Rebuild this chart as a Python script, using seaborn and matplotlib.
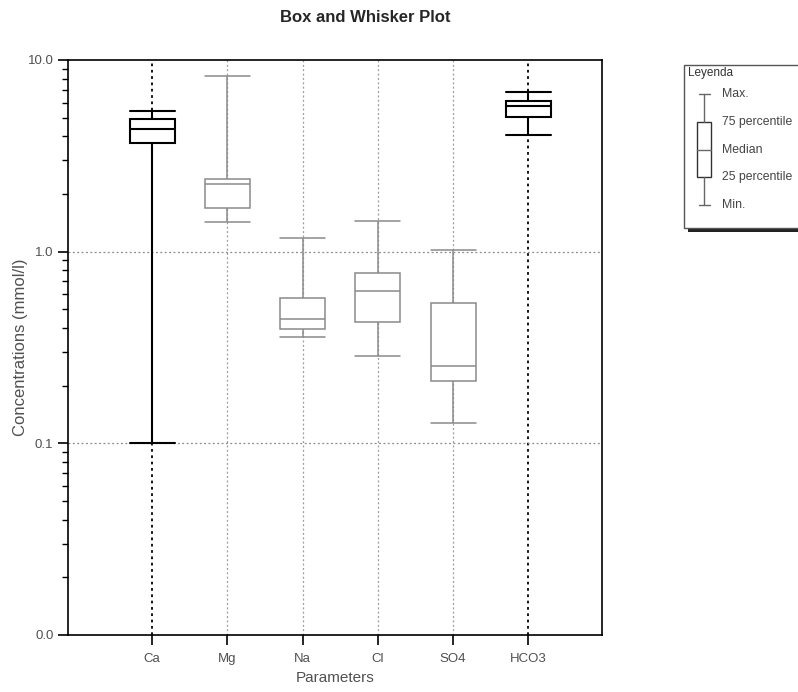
import numpy as np
import pandas as pd
import seaborn as sns
import matplotlib.pyplot as plt
from matplotlib.patches import Rectangle
from matplotlib.ticker import NullFormatter, LogLocator

# five-number summaries (mmol/l)
params = ["Ca", "Mg", "Na", "Cl", "SO4", "HCO3"]
mins = [0.1, 1.42, 0.357, 0.287, 0.127, 4.05]
q1 = [3.69, 1.69, 0.396, 0.428, 0.211, 5.02]
medians = [4.35, 2.25, 0.443, 0.627, 0.253, 5.73]
q3 = [4.94, 2.40, 0.571, 0.778, 0.542, 6.13]
maxs = [5.42, 8.25, 1.18, 1.44, 1.02, 6.84]
dark = ["Ca", "HCO3"]
light = ["Mg", "Na", "Cl", "SO4"]

rows = []
for i, p in enumerate(params):
    for v in (mins[i], q1[i], medians[i], q3[i], maxs[i]):
        rows.append({"param": p, "value": v})
df = pd.DataFrame(rows)

sns.set_style("ticks")
plt.rcParams["font.family"] = ["Liberation Sans", "DejaVu Sans"]

fig = plt.figure(figsize=(7.98, 6.92), dpi=100)
ax = fig.add_axes([0.0852, 0.0824, 0.6692, 0.8309])

gray = "#8a8a8a"
txt = "#505050"

for i, p in enumerate(params):
    c = "black" if p in dark else "#9a9a9a"
    ax.axvline(i, color=c, ls=(0, (1.5, 2)), lw=1.3 if p in dark else 0.9, zorder=1)
for yv in (1.0, 0.1):
    ax.axhline(yv, color="#8a8a8a", ls=(0, (1.5, 2)), lw=0.9, zorder=1)

for group, col, lw in [(light, gray, 1.1), (dark, "black", 1.5)]:
    sns.boxplot(data=df[df["param"].isin(group)], x="param", y="value", order=params,
                whis=(0, 100), width=0.6, color="white", linecolor=col, linewidth=lw,
                log_scale=True, capwidths=0.6, ax=ax, zorder=3)

ax.set_xlim(-1.12, 5.98)
ax.set_ylim(0.01, 10)
ax.set_yticks([0.01, 0.1, 1, 10])
ax.set_yticklabels(["0.0", "0.1", "1.0", "10.0"])
ax.yaxis.set_minor_locator(LogLocator(base=10, subs=np.arange(2, 10)))
ax.yaxis.set_minor_formatter(NullFormatter())
ax.set_xticks(range(len(params)))
ax.set_xticklabels(params)
ax.tick_params(which="major", direction="out", length=7, width=1.2, color="black",
               labelcolor=txt, labelsize=9.5)
ax.tick_params(axis="x", which="major", pad=6)
ax.tick_params(which="minor", direction="out", length=4, width=1.0, color="black")
for s in ax.spines.values():
    s.set_color("black")
    s.set_linewidth(1.2)

ax.set_xlabel("Parameters", color=txt, fontsize=11)
ax.xaxis.set_label_coords(0.5, -36 / 575)
ax.set_ylabel("Concentrations (mmol/l)", color=txt, fontsize=12)
ax.yaxis.set_label_coords(-40 / 534, 0.5)
fig.text(365 / 798, 1 - 17 / 692, "Box and Whisker Plot", fontsize=12, fontweight="bold",
         ha="center", va="center")

# legend panel, drawn in figure pixel coordinates
lax = fig.add_axes([0, 0, 1, 1], zorder=5)
lax.set_xlim(0, 798)
lax.set_ylim(692, 0)
lax.axis("off")
lax.add_patch(Rectangle((688, 69), 130, 163, facecolor="#222222", edgecolor="none"))
lax.add_patch(Rectangle((684, 65), 130, 163, facecolor="white", edgecolor="#555555", lw=1))
lax.text(688, 73, "Leyenda", fontsize=8.5, color="#333333", va="center")
gx = 704
ys = {"max": 94, "q3": 122, "med": 150, "q1": 177, "min": 205}
lg = "#666666"
lax.plot([gx, gx], [ys["max"], ys["q3"]], color=lg, lw=1)
lax.plot([gx, gx], [ys["q1"], ys["min"]], color=lg, lw=1)
lax.plot([699, 710], [ys["max"]] * 2, color=lg, lw=1)
lax.plot([699, 710], [ys["min"]] * 2, color=lg, lw=1)
lax.add_patch(Rectangle((697, ys["q3"]), 14, ys["q1"] - ys["q3"], facecolor="white",
                        edgecolor="#333333", lw=1))
lax.plot([697, 711], [ys["med"]] * 2, color=lg, lw=1)
for key, lab in [("max", "Max."), ("q3", "75 percentile"), ("med", "Median"),
                 ("q1", "25 percentile"), ("min", "Min.")]:
    lax.text(722, ys[key], lab, fontsize=8.8, color="#444444", va="center")

fig.savefig("out.png", dpi=100)
